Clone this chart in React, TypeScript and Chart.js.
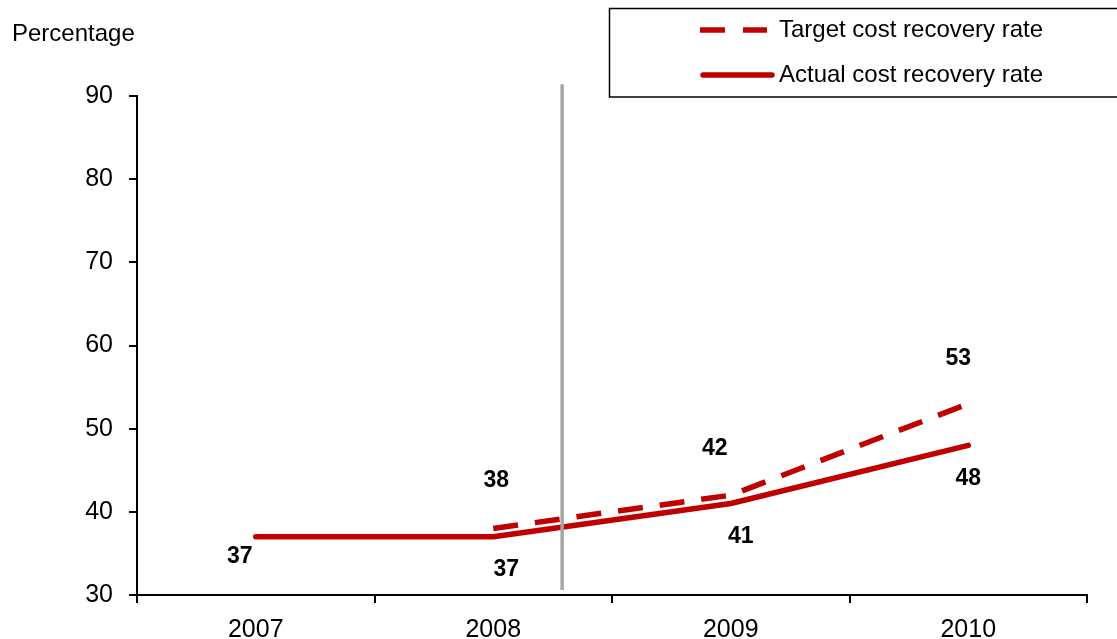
import React, { useEffect, useRef } from "react";
import { Chart, registerables } from "chart.js";

Chart.register(...registerables);

const years = ["2007", "2008", "2009", "2010"];
const targetRate: (number | null)[] = [null, 38, 42, 53];
const actualRate: number[] = [37, 37, 41, 48];
const yTicks = { min: 30, max: 90, step: 10 };
const dividerAt = 1.29; // category position of the grey vertical divider
const dividerRange = [30.6, 91.4];

const targetLabelOffsets = [[0, 0], [3, -48], [-16, -47], [-10, -45]];
const actualLabelOffsets = [[-16, 20], [13, 33], [10, 33], [0, 33]];

const RED = "#C00000";
const FONT = '"Liberation Sans", Arial, sans-serif';

const overlayPlugin = {
  id: "overlay",
  afterDatasetsDraw(chart: any) {
    const ctx = chart.ctx;
    const x = chart.scales.x;
    const y = chart.scales.y;
    // divider
    const x1 = x.getPixelForValue(1);
    const x2 = x.getPixelForValue(2);
    const dx = x1 + (dividerAt - 1) * (x2 - x1);
    ctx.save();
    ctx.strokeStyle = "#A6A6A6";
    ctx.lineWidth = 3.5;
    ctx.beginPath();
    ctx.moveTo(dx, y.getPixelForValue(dividerRange[1]));
    ctx.lineTo(dx, y.getPixelForValue(dividerRange[0]));
    ctx.stroke();

    // data labels
    ctx.fillStyle = "#000";
    ctx.font = `bold 23px ${FONT}`;
    ctx.textAlign = "center";
    ctx.textBaseline = "middle";
    const offs = [targetLabelOffsets, actualLabelOffsets];
    chart.data.datasets.forEach((ds: any, di: number) => {
      const meta = chart.getDatasetMeta(di);
      ds.data.forEach((v: any, i: number) => {
        if (v === null || v === undefined) return;
        const p = meta.data[i];
        ctx.fillText(String(v), p.x + offs[di][i][0], p.y + offs[di][i][1]);
      });
    });

    // y title
    ctx.font = `24px ${FONT}`;
    ctx.textAlign = "left";
    ctx.fillText("Percentage", 12, 34);

    // legend box
    ctx.fillStyle = "#fff";
    ctx.fillRect(609, 8, 520, 89);
    ctx.strokeStyle = "#000";
    ctx.lineWidth = 1.5;
    ctx.strokeRect(609.5, 8.5, 520, 88.5);
    const items = [
      { label: chart.data.datasets[0].label, dash: [25, 18], y: 30, cap: "butt", end: 767 },
      { label: chart.data.datasets[1].label, dash: [], y: 75, cap: "round", end: 772 },
    ];
    items.forEach((it) => {
      ctx.strokeStyle = RED;
      ctx.lineWidth = 5.5;
      ctx.lineCap = it.cap;
      ctx.setLineDash(it.dash);
      ctx.beginPath();
      ctx.moveTo(it.cap === "round" ? 703 : 700, it.y);
      ctx.lineTo(it.end, it.y);
      ctx.stroke();
      ctx.setLineDash([]);
      ctx.fillStyle = "#000";
      ctx.font = `24px ${FONT}`;
      ctx.textAlign = "left";
      ctx.textBaseline = "middle";
      ctx.fillText(it.label, 779, it.y);
    });
    ctx.restore();
  },
};

export default function App() {
  const ref = useRef<HTMLCanvasElement | null>(null);
  useEffect(() => {
    document.body.style.margin = "0";
    const chart = new Chart(ref.current as HTMLCanvasElement, {
      type: "line",
      data: {
        labels: years,
        datasets: [
          {
            label: "Target cost recovery rate",
            data: targetRate,
            borderColor: RED,
            backgroundColor: RED,
            borderWidth: 5.5,
            borderDash: [25, 17],
            borderCapStyle: "butt",
            pointRadius: 0,
            tension: 0,
            spanGaps: false,
          },
          {
            label: "Actual cost recovery rate",
            data: actualRate,
            borderColor: RED,
            backgroundColor: RED,
            borderWidth: 5.5,
            borderCapStyle: "round",
            borderJoinStyle: "round",
            pointRadius: 0,
            tension: 0,
          },
        ],
      },
      options: {
        responsive: false,
        animation: false,
        devicePixelRatio: 1,
        layout: { padding: { top: 96, right: 30, left: 0, bottom: 0 } },
        plugins: { legend: { display: false }, title: { display: false }, tooltip: { enabled: false } },
        scales: {
          x: {
            type: "category",
            offset: true,
            grid: { offset: true, drawOnChartArea: false, drawTicks: true, tickLength: 8, color: "#000", lineWidth: 2 },
            border: { color: "#000", width: 2 },
            ticks: { color: "#000", font: { family: FONT, size: 25 }, padding: 12, maxRotation: 0 },
            afterFit: (s: any) => { s.height = 44; },
          },
          y: {
            min: yTicks.min,
            max: yTicks.max,
            grid: { drawOnChartArea: false, drawTicks: true, tickLength: 8, color: "#000", lineWidth: 2 },
            border: { color: "#000", width: 2 },
            ticks: { stepSize: yTicks.step, color: "#000", font: { family: FONT, size: 25 }, padding: 16 },
            afterFit: (s: any) => { s.width = 137; },
          },
        },
      },
      plugins: [overlayPlugin],
    } as any);
    return () => chart.destroy();
  }, []);
  return <canvas ref={ref} width={1117} height={639} style={{ display: "block", width: 1117, height: 639 }} />;
}
